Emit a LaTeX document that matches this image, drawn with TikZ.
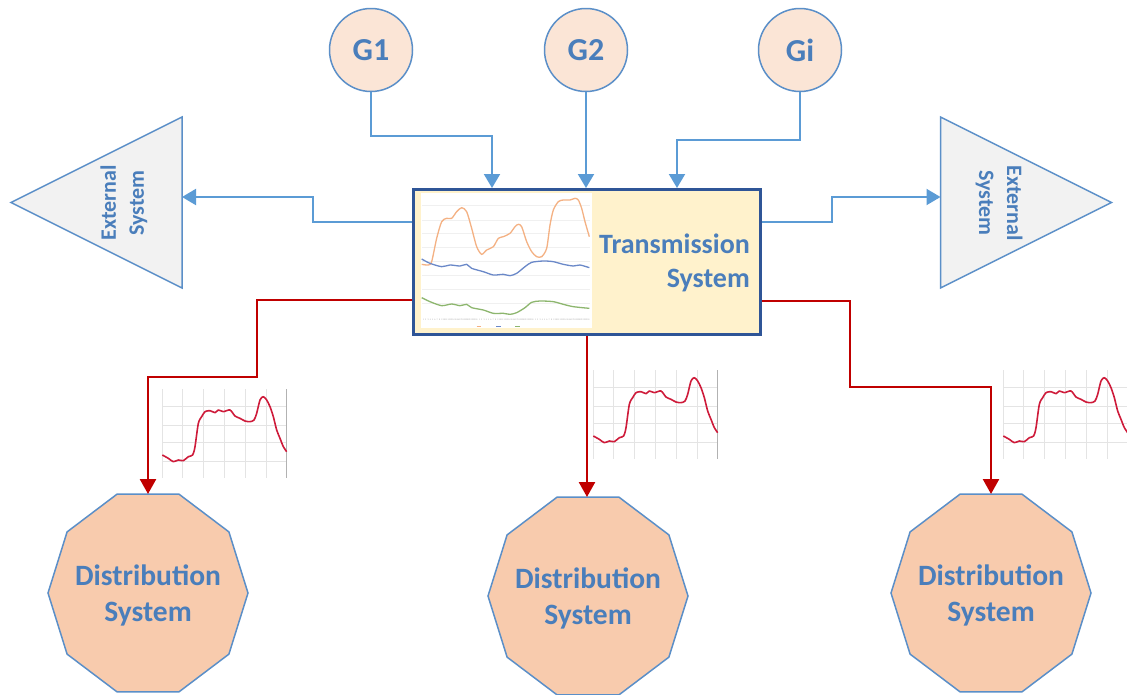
\documentclass[tikz,border=0pt]{standalone}
\usepackage{fontspec}
\setmainfont{Carlito}
\usetikzlibrary{arrows.meta,calc}

\definecolor{labelblue}{HTML}{4A7EBB}
\definecolor{edgeblue}{HTML}{5B8FC8}
\definecolor{linkblue}{HTML}{5B9BD5}
\definecolor{boxblue}{HTML}{2F5597}
\definecolor{boxfill}{HTML}{FFF2CC}
\definecolor{genfill}{HTML}{FBE5D6}
\definecolor{distfill}{HTML}{F8CBAD}
\definecolor{extfill}{HTML}{F2F2F2}
\definecolor{feedred}{HTML}{C00000}
\definecolor{curvered}{HTML}{CE1B3A}
\definecolor{gridgray}{HTML}{E4E4E4}
\definecolor{curveorange}{HTML}{F4B183}
\definecolor{curveblue}{HTML}{6A88C8}
\definecolor{curvegreen}{HTML}{8DB66E}

\tikzset{
  gen/.style={circle, draw=edgeblue, line width=1.5pt, fill=genfill,
    minimum size=83pt, inner sep=0pt, text=labelblue,
    font=\bfseries\fontsize{32}{36}\selectfont},
  transbox/.style={rectangle, draw=boxblue, line width=3pt, fill=boxfill,
    minimum width=347pt, minimum height=145pt, inner sep=0pt},
  translabel/.style={align=right, text=labelblue, inner sep=0pt,
    font=\bfseries\fontsize{28}{34}\selectfont},
  extframe/.style={rectangle, draw=none, inner sep=0pt, outer sep=0pt,
    minimum width=171pt, minimum height=171pt},
  extshape/.style={draw=edgeblue, line width=1.5pt, fill=extfill, line join=miter},
  extlabel/.style={align=center, text=labelblue, inner sep=0pt,
    font=\bfseries\fontsize{22}{28}\selectfont},
  distframe/.style={rectangle, draw=none, inner sep=0pt, outer sep=0pt,
    minimum width=200pt, minimum height=198pt, align=center, text=labelblue,
    font=\bfseries\fontsize{29.5}{36}\selectfont},
  distshape/.style={draw=edgeblue, line width=1.5pt, fill=distfill},
  bluelink/.style={draw=linkblue, line width=2pt,
    -{Triangle[width=16pt,length=14pt]}},
  redlink/.style={draw=feedred, line width=2.5pt,
    -{Triangle[width=16pt,length=15pt]}},
  gridline/.style={draw=gridgray, line width=0.8pt},
  loadprofile/.pic={
    \path[gridline] foreach \gx in {1,62,124,188,250,312} {(\gx,0) -- (\gx,268)};
    \path[gridline] foreach \gy in {51,108,161,218} {(0,\gy) -- (374,\gy)};
    \draw[gray!60, line width=0.8pt] (374,0) -- (374,268);
    \draw[curvered, line width=1.6pt, line join=round]
      plot[smooth, tension=0.45] coordinates {
        (1,198) (19,208) (34,218) (49,213) (64,215) (79,203) (92,198)
        (99,173) (109,103) (119,83) (129,68) (144,65) (159,71) (169,63)
        (184,68) (204,63) (219,81) (234,88) (249,96) (264,98) (276,93)
        (284,73) (294,33) (304,23) (314,33) (324,53) (334,83) (344,123)
        (354,148) (364,173) (374,188)};
  }
}

\begin{document}
\begin{tikzpicture}[x=1pt, y=-1pt]
\useasboundingbox (0,0) rectangle (1127,694);

% generators
\node[gen] (g1) at (371,50) {G1};
\node[gen] (g2) at (586,50) {G2};
\node[gen] (gi) at (800,50) {Gi};

% transmission system
\node[transbox] (tx) at (587,262) {};

% embedded load chart of the transmission system
\begin{scope}[shift={(410pt,-185pt)}, x=0.33333pt, y=-0.33333pt]
  \fill[white] (33,25) rectangle (545,430);
  \path[draw=gray!12, line width=0.5pt]
    foreach \gy in {62,105,145,188,228,270,312,355} {(36,\gy) -- (540,\gy)};
  \draw[curveorange, line width=1.3pt]
    plot[smooth, tension=0.45] coordinates {
      (35,238) (55,240) (65,230) (80,160) (95,110) (110,100) (125,100)
      (140,80) (155,68) (170,80) (185,130) (200,185) (215,208) (230,195)
      (250,185) (265,160) (280,155) (300,145) (315,125) (325,118) (335,125)
      (350,170) (365,200) (380,215) (395,215) (410,190) (420,120) (430,75)
      (445,50) (460,45) (480,45) (495,40) (505,45) (515,70) (525,110) (538,155)};
  \draw[curveblue, line width=1.3pt]
    plot[smooth, tension=0.45] coordinates {
      (35,222) (60,235) (95,245) (120,240) (150,243) (170,238) (185,250)
      (220,260) (250,270) (280,268) (300,272) (320,265) (345,245) (365,232)
      (400,228) (430,230) (460,238) (490,243) (510,240) (538,248)};
  \draw[curvegreen, line width=1.3pt]
    plot[smooth, tension=0.45] coordinates {
      (35,338) (60,350) (95,362) (125,357) (150,362) (170,358) (185,368)
      (220,375) (250,385) (280,385) (300,388) (320,383) (345,368) (365,352)
      (390,348) (430,350) (460,358) (490,365) (538,370)};
  \foreach \grp in {0,1,2} {
    \foreach \h in {1,...,24} {
      \node[inner sep=0pt, text=gray!70, font=\fontsize{2.2}{2.5}\selectfont]
        (hr\grp-\h) at ({37+\grp*168+(\h-0.5)*6.9},403) {\h};
    }
  }
  \draw[curveorange, line width=1pt] (200,423) -- (214,423);
  \draw[curveblue, line width=1pt] (258,423) -- (272,423);
  \draw[curvegreen, line width=1pt] (316,423) -- (330,423);
\end{scope}

\node[translabel, anchor=east] (txlabel) at (750,263) {Transmission\\System};

% external systems
\node[extframe] (ext1) at (96.5,202.5) {};
\draw[extshape] (ext1.west) -- (ext1.north east) -- (ext1.south east) -- cycle;
\node[extlabel, rotate=90] (ext1label) at (124,203) {External\\System};

\node[extframe] (ext2) at (1026,202.5) {};
\draw[extshape] (ext2.east) -- (ext2.north west) -- (ext2.south west) -- cycle;
\node[extlabel, rotate=-90] (ext2label) at (999,203) {External\\System};

% distribution systems (slightly tall decagons)
\foreach \d/\cx/\cy in {d1/148/593, d2/588/596, d3/991/593} {
  \node[distframe] (\d) at (\cx,\cy) {};
  \draw[distshape] (\d.center) +(0:100 and 104) -- +(36:100 and 104)
    -- +(72:100 and 104) -- +(108:100 and 104) -- +(144:100 and 104)
    -- +(180:100 and 104) -- +(216:100 and 104) -- +(252:100 and 104)
    -- +(288:100 and 104) -- +(324:100 and 104) -- cycle;
}
\node[distframe] (d1label) at (148,595) {Distribution\\System};
\node[distframe] (d2label) at (588,598) {Distribution\\System};
\node[distframe] (d3label) at (991,595) {Distribution\\System};

% load profiles of the distribution feeders
\begin{scope}[shift={(162pt,-389pt)}, x=0.33333pt, y=-0.33333pt]
  \pic {loadprofile};
\end{scope}
\begin{scope}[shift={(593pt,-370pt)}, x=0.33333pt, y=-0.33333pt]
  \pic {loadprofile};
\end{scope}
\begin{scope}[shift={(1003pt,-370pt)}, x=0.33333pt, y=-0.33333pt]
  \pic {loadprofile};
\end{scope}

% generator infeeds
\draw[bluelink] (g1.south) |- (492,136) -- (tx.north -| 492,0);
\draw[bluelink] (g2.south) -- (tx.north -| g2.south);
\draw[bluelink] (gi.south) |- (677,140) -- (tx.north -| 677,0);

% exchange with external systems
\draw[bluelink] (tx.west |- 0,222) -| (313,197) -- (ext1.east |- 0,197);
\draw[bluelink] (tx.east |- 0,222) -| (832,197) -- (ext2.west |- 0,197);

% feeders to distribution systems
\draw[redlink] (tx.west |- 0,300) -| (257,377) -| (d1.north);
\draw[redlink] (tx.south) -- (tx.south |- d2.north);
\draw[redlink] (tx.east |- 0,301) -| (850,387) -| (d3.north);
\end{tikzpicture}
\end{document}
